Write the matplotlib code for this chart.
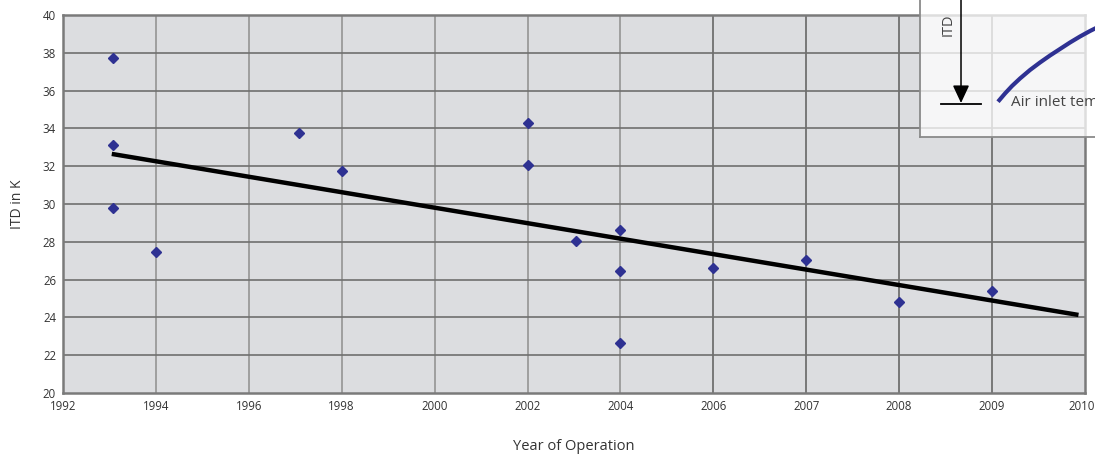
import numpy as np
import matplotlib
matplotlib.use("Agg")
import matplotlib.pyplot as plt
from matplotlib.transforms import ScaledTranslation

plt.rcParams['font.family'] = ['Open Sans', 'DejaVu Sans']

# ---- data ----
tick_years = [1992, 1994, 1996, 1998, 2000, 2002, 2004, 2006, 2007, 2008, 2009, 2010]
years = [1993.08, 1993.08, 1993.08, 1994, 1997.08, 1998, 2002, 2002, 2003.04,
         2004, 2004, 2004, 2006, 2007, 2008, 2009]
itd = [37.7, 33.1, 29.8, 27.45, 33.75, 31.75, 34.3, 32.05, 28.05, 28.6, 26.45,
       22.65, 26.6, 27.05, 24.8, 25.4]
trend_years = [1993.05, 2009.93]
trend_itd = [32.65, 24.13]

# schematic inset curve (picture pixels, converted to inset-axes fractions below)
inset_curve_px = [998, 1005, 1012, 1020, 1030, 1040, 1050, 1060, 1070, 1080, 1090, 1100]
inset_curve_py = [101.7, 93.5, 86, 78.5, 70, 62.5, 55.5, 49.0, 42.5, 36.5, 31.0, 26.0]

W, H = 1095, 454
fig = plt.figure(figsize=(W / 100, H / 100), dpi=100)
ax = fig.add_axes([63 / W, 1 - 393 / H, (1085 - 63) / W, (393 - 15) / H])
ax.set_facecolor('#dcdde0')


def pos(y):
    return np.interp(y, tick_years, np.arange(len(tick_years)))


ax.set_xlim(0, len(tick_years) - 1)
ax.set_ylim(20, 40)
ax.set_xticks(np.arange(len(tick_years)))
ax.set_xticklabels([str(t) for t in tick_years])
ax.set_yticks(np.arange(20, 41, 2))
ax.tick_params(length=0, labelsize=8.3, colors='#333333', pad=5)
last = ax.get_xticklabels()[-1]
last.set_transform(last.get_transform() + ScaledTranslation(-3 / 100, 0, fig.dpi_scale_trans))

# grid
for i, t in enumerate(tick_years[1:-1], start=1):
    c = '#9a9a9a' if t <= 2004 else '#707070'
    ax.axvline(i, color=c, lw=1.3, zorder=1)
for v in range(22, 40, 2):
    ax.axhline(v, color='#6f6f6f', lw=1.2, zorder=1)
for s in ax.spines.values():
    s.set_color('#7a7a7a')
    s.set_linewidth(1.8)

ax.plot(pos(np.array(trend_years)), trend_itd, color='black', lw=3.2, zorder=3,
        solid_capstyle='butt')
ax.plot(pos(np.array(years)), itd, linestyle='none', marker='D', ms=4.8,
        color='#2e3192', zorder=4)

ax.set_xlabel('Year of Operation', fontsize=10.5, color='#333333', labelpad=19)
ax.set_ylabel('ITD in K', fontsize=10, color='#333333', labelpad=13)

# ---- inset schematic ----
ix0 = 920 / W
iy0 = 1 - 137 / H
iw = 0.25
ih = 0.35
ax2 = fig.add_axes([ix0, iy0, iw, ih])
ax2.set_xlim(0, 1)
ax2.set_ylim(0, 1)
ax2.patch.set_facecolor('white')
ax2.patch.set_alpha(0.75)
ax2.set_xticks([])
ax2.set_yticks([])
for k in ['top', 'right']:
    ax2.spines[k].set_visible(False)
for k in ['left', 'bottom']:
    ax2.spines[k].set_color('#8a8a8a')
    ax2.spines[k].set_linewidth(1.3)

pw = iw * W
ph = ih * H
cx = [(p - 920) / pw for p in inset_curve_px]
cy = [(137 - p) / ph for p in inset_curve_py]

ax2.annotate('', xy=(0.1498, 0.214), xytext=(0.1498, 1.0),
             arrowprops=dict(arrowstyle='-|>,head_length=0.6,head_width=0.28',
                             color='black', lw=1.1, mutation_scale=18,
                             shrinkA=0, shrinkB=0))
ax2.plot([0.0767, 0.2228], [0.2077, 0.2077], color='black', lw=1.3)
ax2.text(0.102, 0.705, 'ITD', rotation=90, ha='center', va='center',
         fontsize=10.5, color='#444444')
ax2.text(0.332, 0.215, 'Air inlet temperature', ha='left', va='center',
         fontsize=11, color='#444444')
ax2.plot(cx, cy, color='#2e3192', lw=3.0, solid_capstyle='butt')

fig.savefig('out.png', dpi=100)
